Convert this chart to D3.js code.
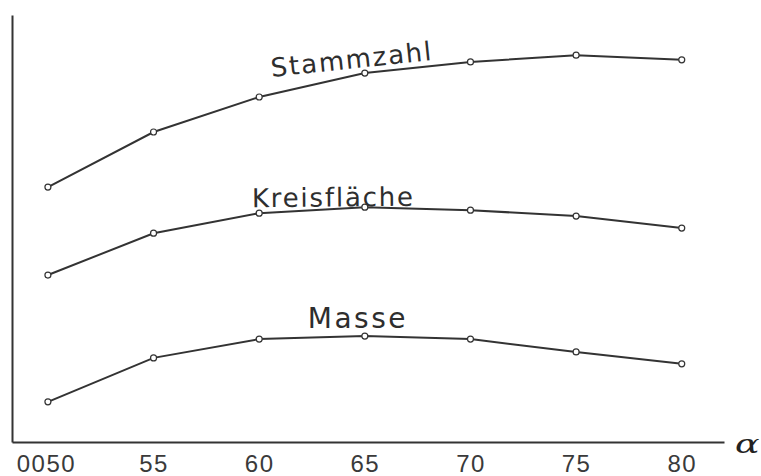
<!DOCTYPE html>
<html>
<head>
<meta charset="utf-8">
<script src="https://cdn.jsdelivr.net/npm/d3@7/dist/d3.min.js"></script>
<style>
  body { margin: 0; background: #fff; }
  svg { display: block; font-family: "DejaVu Sans", sans-serif; }
</style>
</head>
<body>
<script>
const width = 761;
const height = 476;

// data (y in arbitrary units, no scale shown)
const alphas = [50, 55, 60, 65, 70, 75, 80];
const stammzahl = [59.7, 72.6, 80.8, 86.4, 89.0, 90.6, 89.5];
const kreisflaeche = [39.1, 48.9, 53.6, 55.0, 54.3, 52.9, 50.1];
const masse = [9.4, 19.7, 24.1, 24.8, 24.1, 21.1, 18.3];
const seriesNames = ["Stammzahl", "Kreisfläche", "Masse"];
const xTickLabels = ["0050", "55", "60", "65", "70", "75", "80"];

const series = [stammzahl, kreisflaeche, masse];

// where each curve name sits, in data units
const labelPos = [
  { x: 60.6, y: 85.5, rot: -6, size: 26, spacing: 1.8 },
  { x: 59.66, y: 55.0, rot: -0.5, size: 26, spacing: 1.8 },
  { x: 62.3, y: 26.7, rot: 0, size: 28, spacing: 2.5 }
];

const ink = "#333";

const svg = d3
  .select("body")
  .append("svg")
  .attr("width", width)
  .attr("height", height);

const xScale = d3.scaleLinear().domain([48.3, 82]).range([12, 724]);
const yScale = d3.scaleLinear().domain([0, 100]).range([442, 15]);

const xAxis = d3
  .axisBottom(xScale)
  .tickValues(alphas)
  .tickSize(0)
  .tickPadding(13)
  .tickFormat((d, i) => xTickLabels[i]);

const gx = svg
  .append("g")
  .attr("transform", `translate(0,${yScale(0)})`)
  .call(xAxis);
gx.select(".domain").attr("stroke", ink).attr("stroke-width", 2);
gx.selectAll("text")
  .attr("fill", "#3a3a3a")
  .style("font-size", "24px")
  .style("letter-spacing", "1.5px")
  .attr("dx", (d) => (d === 50 ? -2 : 0));

const gy = svg
  .append("g")
  .attr("transform", `translate(${xScale.range()[0]},0)`)
  .call(d3.axisLeft(yScale).tickValues([]).tickSizeOuter(0));
gy.select(".domain").attr("stroke", ink).attr("stroke-width", 2);

// alpha at the end of the x axis
svg
  .append("text")
  .attr("transform", `translate(${xScale(82) + 11},${yScale(0) + 11}) scale(1.4,1)`)
  .attr("fill", "#222")
  .style("font-family", "'DejaVu Serif', serif")
  .style("font-style", "italic")
  .style("font-size", "26px")
  .text("α");

const line = d3
  .line()
  .x((d, i) => xScale(alphas[i]))
  .y((d) => yScale(d));

series.forEach((values, k) => {
  svg
    .append("path")
    .datum(values)
    .attr("fill", "none")
    .attr("stroke", ink)
    .attr("stroke-width", 2)
    .attr("d", line);

  svg
    .append("g")
    .selectAll("circle")
    .data(values)
    .enter()
    .append("circle")
    .attr("cx", (d, i) => xScale(alphas[i]))
    .attr("cy", (d) => yScale(d))
    .attr("r", 3)
    .attr("fill", "#fff")
    .attr("stroke", ink)
    .attr("stroke-width", 1.2);

  const p = labelPos[k];
  svg
    .append("text")
    .attr(
      "transform",
      `translate(${xScale(p.x)},${yScale(p.y)}) rotate(${p.rot})`
    )
    .attr("fill", "#2e2e2e")
    .style("font-size", `${p.size}px`)
    .style("letter-spacing", `${p.spacing}px`)
    .text(seriesNames[k]);
});
</script>
</body>
</html>
